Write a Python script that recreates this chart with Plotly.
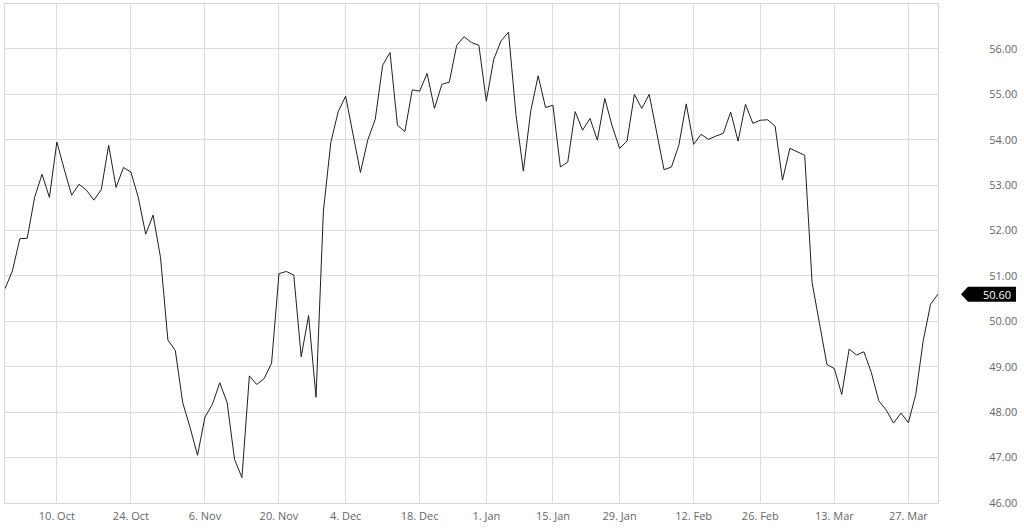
import plotly.graph_objects as go

# Closing values, one per trading session
values = [
    50.72, 51.11, 51.82, 51.83, 52.73, 53.24, 52.73, 53.95, 53.35, 52.78,
    53.02, 52.89, 52.67, 52.90, 53.88, 52.95, 53.39, 53.29, 52.73, 51.92,
    52.34, 51.41, 49.59, 49.36, 48.21, 47.66, 47.05, 47.89, 48.17, 48.65,
    48.21, 46.96, 46.56, 48.80, 48.61, 48.74, 49.08, 51.05, 51.10, 51.02,
    49.22, 50.13, 48.33, 52.43, 53.94, 54.62, 54.96, 54.12, 53.28, 54.00,
    54.45, 55.64, 55.92, 54.32, 54.18, 55.10, 55.07, 55.46, 54.69, 55.22,
    55.27, 56.08, 56.27, 56.14, 56.08, 54.85, 55.77, 56.18, 56.37, 54.56,
    53.31, 54.63, 55.41, 54.71, 54.76, 53.40, 53.51, 54.62, 54.21, 54.47,
    53.99, 54.91, 54.30, 53.81, 53.97, 55.00, 54.69, 55.00, 54.17, 53.34,
    53.40, 53.88, 54.79, 53.90, 54.12, 54.01, 54.08, 54.14, 54.61, 53.97,
    54.78, 54.36, 54.43, 54.44, 54.30, 53.11, 53.81, 53.73, 53.66, 50.85,
    49.94, 49.05, 48.96, 48.39, 49.39, 49.26, 49.33, 48.87, 48.25, 48.05,
    47.76, 47.98, 47.77, 48.39, 49.57, 50.38, 50.60,
]

# Date labels and the session each one belongs to
tick_labels = ["10. Oct", "24. Oct", "6. Nov", "20. Nov", "4. Dec", "18. Dec",
               "1. Jan", "15. Jan", "29. Jan", "12. Feb", "26. Feb", "13. Mar", "27. Mar"]
tick_sessions = [7, 17, 27, 37, 46, 56, 65, 74, 83, 93, 102, 112, 122]

y_ticks = [46, 47, 48, 49, 50, 51, 52, 53, 54, 55, 56]

x = list(range(len(values)))
last = values[-1]

W, H = 1024, 529
L, R, T, B = 5, 86, 4, 26
plot_w = W - L - R


def px_to_paper(px):
    return (px - L) / plot_w


y_lo, y_hi = 46, 56.99
unit_px = (H - T - B) / (y_hi - y_lo)

fig = go.Figure()
fig.add_trace(go.Scatter(
    x=x, y=values, mode="lines",
    line=dict(color="#1f1f1f", width=1),
    hoverinfo="skip", showlegend=False,
))

font = dict(family="Open Sans, sans-serif", size=11, color="#666666")

fig.update_layout(
    width=W, height=H,
    margin=dict(l=L, r=R, t=T, b=B),
    paper_bgcolor="white", plot_bgcolor="white",
    font=font,
    showlegend=False,
    xaxis=dict(
        range=[0, len(values) - 1],
        tickmode="array", tickvals=tick_sessions, ticktext=tick_labels,
        showgrid=True, gridcolor="#dcdcdc", gridwidth=1,
        showline=True, linecolor="#d6d6d6", linewidth=1, mirror=True,
        ticks="", tickfont=font, zeroline=False,
        ticklabelstandoff=3,
    ),
    yaxis=dict(
        range=[y_lo, y_hi], side="right",
        tickmode="array", tickvals=y_ticks,
        ticktext=[f"{v:.2f}" for v in y_ticks],
        showgrid=True, gridcolor="#dcdcdc", gridwidth=1,
        showline=True, linecolor="#d6d6d6", linewidth=1, mirror=True,
        ticks="", tickfont=font, zeroline=False,
        ticklabelstandoff=48,
    ),
)

# Last-value tag
half = 7.5 / unit_px
fig.add_shape(
    type="path", xref="paper", yref="y",
    path=(f"M {px_to_paper(961)} {last} "
          f"L {px_to_paper(968)} {last + half} "
          f"L {px_to_paper(1016)} {last + half} "
          f"L {px_to_paper(1016)} {last - half} "
          f"L {px_to_paper(968)} {last - half} Z"),
    fillcolor="black", line=dict(width=0), layer="above",
)
fig.add_annotation(
    xref="paper", yref="y", x=px_to_paper(1013), y=last,
    xanchor="right", yanchor="middle", showarrow=False,
    text=f"{last:.2f}", font=dict(family="Open Sans, sans-serif", size=11, color="white"),
)

fig.write_html(
    "out.html",
    config={"displayModeBar": False},
    post_script="document.body.style.margin='0';document.body.style.overflow='hidden';",
)
